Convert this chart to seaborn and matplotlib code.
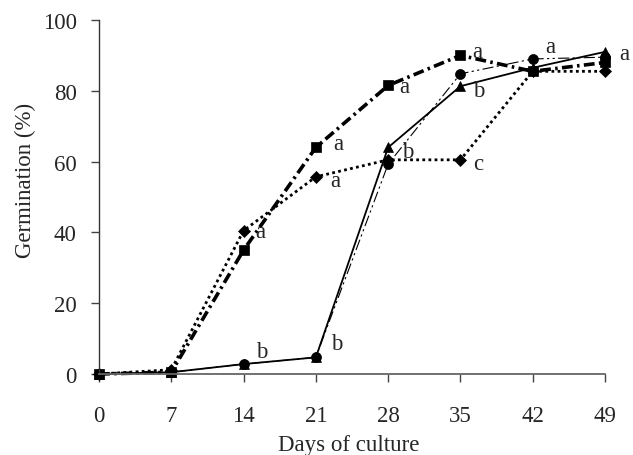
import matplotlib
matplotlib.use("Agg")
import matplotlib.pyplot as plt
import seaborn as sns
import pandas as pd

# ---- data ----
days = [0, 7, 14, 21, 28, 35, 42, 49]
sq_vals = [0, 0.5, 35, 64, 81.5, 90, 85.5, 88]        # squares, thick dash-dot
dia_vals = [0, 1.2, 40.5, 55.7, 60.5, 60.5, 85.5, 85.5]  # diamonds, dotted
tri_vals = [0, 0.5, 2.8, 4.7, 64, 81.3, 86.5, 91]      # triangles, solid
cir_vals = [0, 0.5, 2.8, 4.7, 59.3, 84.8, 89, 89.5]    # circles, thin dash-dot-dot

letters = ["a", "b", "b", "a", "a", "a", "b", "a", "b", "c", "a", "a"]
letter_x = [15.1, 15.25, 22.5, 22.65, 22.4, 29.1, 29.3, 36.1, 36.2, 36.2, 43.2, 50.4]
letter_y = [38.7, 4.8, 7.1, 63.6, 53.2, 79.6, 61.3, 89.5, 78.6, 57.9, 91.0, 89.0]

xticks = [0, 7, 14, 21, 28, 35, 42, 49]
yticks = [0, 20, 40, 60, 80, 100]

sns.set_style("ticks")
plt.rcParams["font.family"] = ["Liberation Serif", "DejaVu Serif"]
plt.rcParams["font.size"] = 16.5

fig = plt.figure(figsize=(6.33, 4.56), dpi=100)
ax = fig.add_axes([99 / 633, 1 - 375 / 456, 506 / 633, 354 / 456])

df = pd.DataFrame({"day": days, "sq": sq_vals, "dia": dia_vals,
                   "tri": tri_vals, "cir": cir_vals})

common = dict(ax=ax, x="day", color="black", errorbar=None,
              markeredgecolor="black", clip_on=False)

sns.lineplot(data=df, y="tri", marker="^", markersize=7.5, linewidth=1.3,
             linestyle="-", markeredgewidth=0.5, **common)
sns.lineplot(data=df, y="dia", marker="D", markersize=5.8, linewidth=2.0,
             linestyle=(0, (1, 1.2)), markeredgewidth=0.5, **common)
sns.lineplot(data=df, y="cir", marker="o", markersize=7.2, linewidth=0.8,
             linestyle=(0, (10, 3, 2, 3, 2, 3)), markeredgewidth=0.5, **common)
sns.lineplot(data=df, y="sq", marker="s", markersize=7.8, linewidth=2.6,
             linestyle=(0, (3, 1.2, 0.7, 1.2)), markeredgewidth=0.5, **common)

for t, x, y in zip(letters, letter_x, letter_y):
    ax.text(x, y, t, ha="left", va="baseline", fontsize=16.5, clip_on=False)

ax.set_xlim(0, 49)
ax.set_ylim(0, 100)
ax.set_xticks(xticks)
ax.set_yticks(yticks)
ax.set_xticklabels([str(v) for v in xticks])
ax.set_yticklabels([str(v) for v in yticks])

sns.despine(ax=ax)
ax.spines["left"].set_color("#333333")
ax.spines["bottom"].set_color("#666666")
ax.spines["left"].set_linewidth(1.0)
ax.spines["bottom"].set_linewidth(1.3)

ax.tick_params(axis="x", direction="out", length=6, width=1, color="#444444",
               pad=16, labelsize=16.5)
ax.tick_params(axis="y", direction="out", length=6, width=1, color="#444444",
               pad=10, labelsize=16.5)

ax.set_xlabel("Days of culture", fontsize=16.5, va="top")
ax.xaxis.set_label_coords(0.494, -0.170)
ax.set_ylabel("Germination (%)", fontsize=16.5, va="center")
ax.yaxis.set_label_coords(-0.146, 0.551)

fig.savefig("out.png", dpi=100)
